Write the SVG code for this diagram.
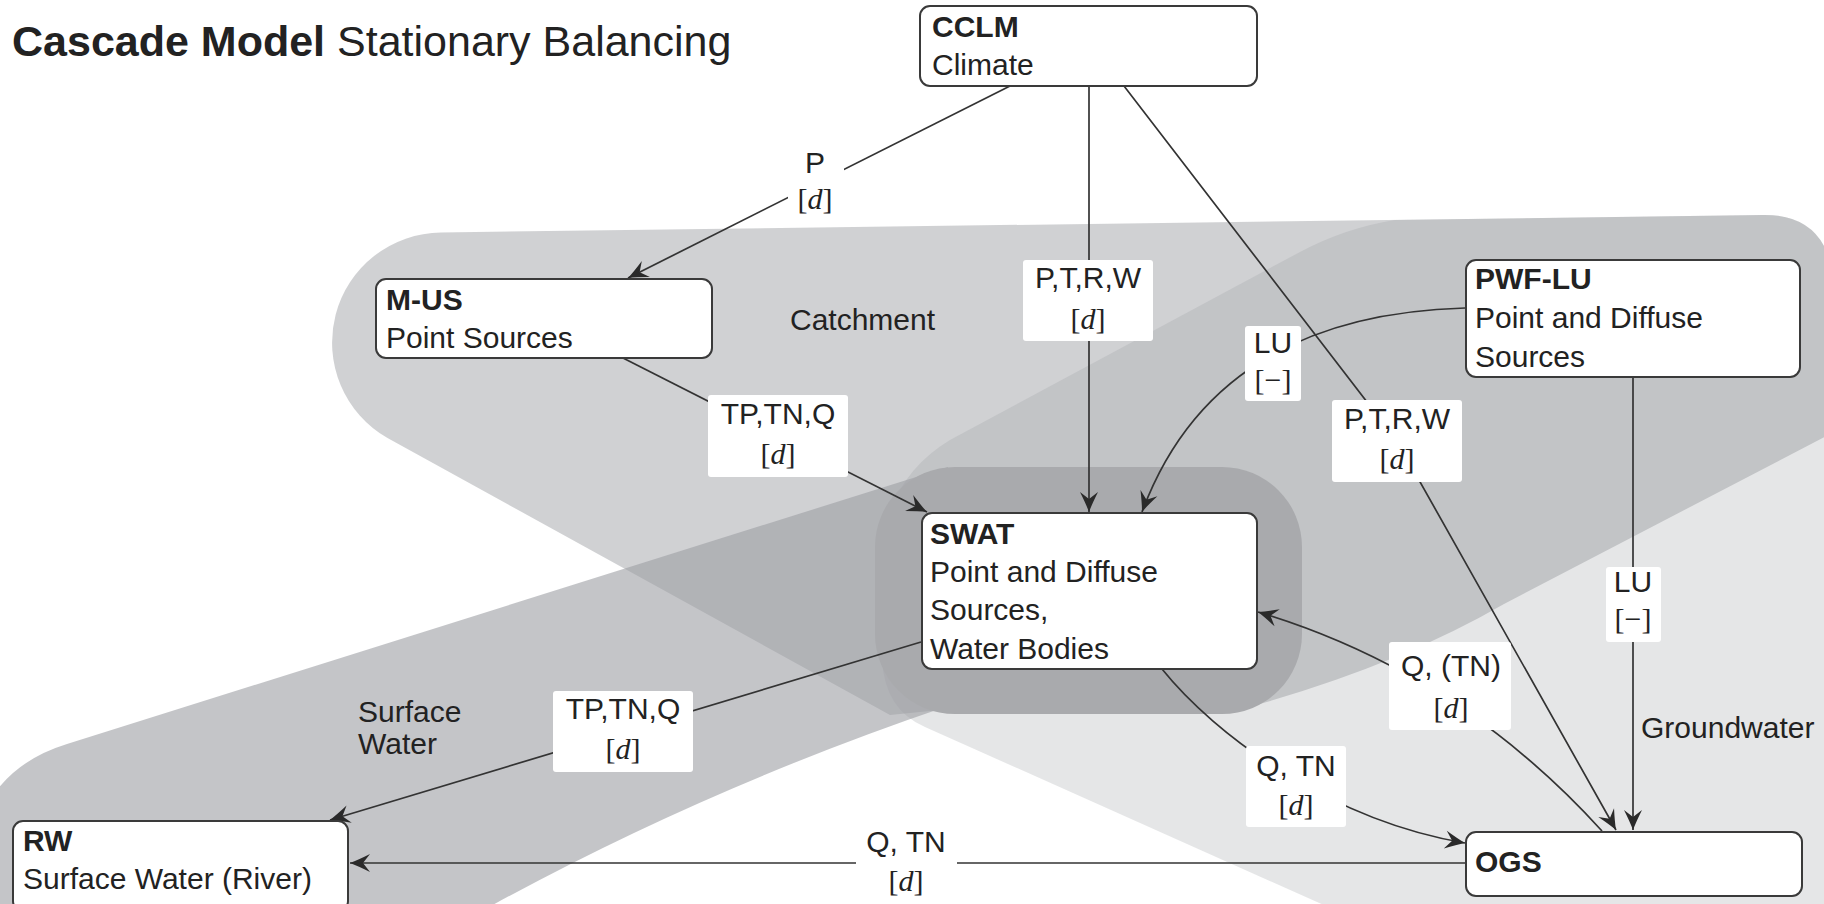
<svg xmlns="http://www.w3.org/2000/svg" width="1824" height="904" viewBox="0 0 1824 904">
<defs>
<style>
.t{font-family:"Liberation Sans",Arial,sans-serif;font-size:30px;fill:#222}
.b{font-weight:bold}
.m{font-family:"Liberation Serif","Times New Roman",serif;font-size:30px;fill:#222}
.mid{text-anchor:middle}
.node{fill:#fff;stroke:#3a3a3a;stroke-width:2}
.lbl{fill:#fff}
.c{fill:none;stroke:#333;stroke-width:1.7}
.a{marker-end:url(#ah)}
.reg{fill:#9c9ea3}
</style>
<marker id="ah" viewBox="-22 -11 24 22" refX="0" refY="0" markerWidth="24" markerHeight="22" markerUnits="userSpaceOnUse" orient="auto">
<path d="M0,0 Q-8,3 -20,9 L-13,0 L-20,-9 Q-8,-3 0,0 Z" fill="#2a2a2a"/>
</marker>
</defs>
<rect width="1824" height="904" fill="#fff"/>
<g id="regions">
<path id="catchment" class="reg" fill-opacity="0.48" d="M441,232.5 L1763,215 Q1826,214 1834,280 L1834,432 L1504,604 Q1390,670 1227,713 L1150,708 L960,708 L890,715 L387.5,438 A110,110 0 0 1 441,232.5 Z"/>
<path id="groundwater" class="reg" fill-opacity="0.26" d="M1395,220 L1763,215 Q1826,214 1834,280 L1834,910 L1335,910 L925,727 Q885,710 882,660 L882,560 Q884,480 950,440 L1300,252 Q1345,228 1395,220 Z"/>
<path id="surface-water" class="reg" fill-opacity="0.6" d="M948,467 L67,744 Q15,760 -10,800 L-10,920 L480,912 Q700,790 948,706 Z"/>
<rect id="swat-region" x="875" y="467" width="427" height="247" rx="80" fill="#a9aaad"/>
</g>
<text class="t" x="12" y="56" style="font-size:43px"><tspan class="b">Cascade Model</tspan> Stationary Balancing</text>
<text class="t" x="790" y="330">Catchment</text>
<text class="t" x="358" y="722">Surface</text>
<text class="t" x="358" y="754">Water</text>
<text class="t" x="1641" y="738">Groundwater</text>
<g id="connectors">
<path class="c a" d="M1010,86 L628,278"/>
<path class="c a" d="M1089,86 L1089,512"/>
<path class="c a" d="M1124,86 L1397,441 L1616,830"/>
<path class="c a" d="M623,358 L927,512"/>
<path class="c a" d="M1465,308 Q1215,315 1142,512"/>
<path class="c a" d="M1633,377 L1633,830"/>
<path class="c a" d="M1162,669 C1215,735 1330,820 1465,843"/>
<path class="c a" d="M1602,831 Q1458,672 1258,612"/>
<path class="c a" d="M921,642 L330,820"/>
<path class="c a" d="M1466,863 L350,863"/>
<g id="lbl-p">
<rect class="lbl" x="788" y="148" width="56" height="68" rx="3"/>
<text class="t mid" x="815" y="173">P</text>
<text class="m mid" x="815" y="209">[<tspan font-style="italic">d</tspan>]</text>
</g>
<g id="lbl-ptrw1">
<rect class="lbl" x="1023" y="260" width="130" height="81" rx="3"/>
<text class="t mid" x="1088" y="288">P,T,R,W</text>
<text class="m mid" x="1088" y="329">[<tspan font-style="italic">d</tspan>]</text>
</g>
<g id="lbl-tptnq1">
<rect class="lbl" x="708" y="395" width="140" height="82" rx="3"/>
<text class="t mid" x="778" y="424">TP,TN,Q</text>
<text class="m mid" x="778" y="464">[<tspan font-style="italic">d</tspan>]</text>
</g>
<g id="lbl-lu1">
<rect class="lbl" x="1245" y="326" width="56" height="75" rx="3"/>
<text class="t mid" x="1273" y="353">LU</text>
<text class="m mid" x="1273" y="390">[−]</text>
</g>
<g id="lbl-ptrw2">
<rect class="lbl" x="1332" y="400" width="130" height="82" rx="3"/>
<text class="t mid" x="1397" y="429">P,T,R,W</text>
<text class="m mid" x="1397" y="469">[<tspan font-style="italic">d</tspan>]</text>
</g>
<g id="lbl-lu2">
<rect class="lbl" x="1606" y="567" width="55" height="75" rx="3"/>
<text class="t mid" x="1633" y="592">LU</text>
<text class="m mid" x="1633" y="629">[−]</text>
</g>
<g id="lbl-qtn-paren">
<rect class="lbl" x="1389" y="642" width="122" height="88" rx="3"/>
<text class="t mid" x="1451" y="676">Q, (TN)</text>
<text class="m mid" x="1451" y="718">[<tspan font-style="italic">d</tspan>]</text>
</g>
<g id="lbl-qtn1">
<rect class="lbl" x="1246" y="746" width="100" height="81" rx="3"/>
<text class="t mid" x="1296" y="776">Q, TN</text>
<text class="m mid" x="1296" y="815">[<tspan font-style="italic">d</tspan>]</text>
</g>
<g id="lbl-tptnq2">
<rect class="lbl" x="553" y="691" width="140" height="81" rx="3"/>
<text class="t mid" x="623" y="719">TP,TN,Q</text>
<text class="m mid" x="623" y="759">[<tspan font-style="italic">d</tspan>]</text>
</g>
<g id="lbl-qtn2">
<rect class="lbl" x="856" y="822" width="101" height="80" rx="3"/>
<text class="t mid" x="906" y="852">Q, TN</text>
<text class="m mid" x="906" y="891">[<tspan font-style="italic">d</tspan>]</text>
</g>
</g>
<g id="node-cclm">
<rect class="node" x="920" y="6" width="337" height="80" rx="10"/>
<text class="t b" x="932" y="37">CCLM</text>
<text class="t" x="932" y="75">Climate</text>
</g>
<g id="node-mus">
<rect class="node" x="376" y="279" width="336" height="79" rx="10"/>
<text class="t b" x="386" y="310">M-US</text>
<text class="t" x="386" y="348">Point Sources</text>
</g>
<g id="node-pwflu">
<rect class="node" x="1466" y="260" width="334" height="117" rx="10"/>
<text class="t b" x="1475" y="289">PWF-LU</text>
<text class="t" x="1475" y="328">Point and Diffuse</text>
<text class="t" x="1475" y="367">Sources</text>
</g>
<g id="node-swat">
<rect class="node" x="922" y="513" width="335" height="156" rx="10"/>
<text class="t b" x="930" y="544">SWAT</text>
<text class="t" x="930" y="582">Point and Diffuse</text>
<text class="t" x="930" y="620">Sources,</text>
<text class="t" x="930" y="659">Water Bodies</text>
</g>
<g id="node-ogs">
<rect class="node" x="1466" y="832" width="336" height="64" rx="10"/>
<text class="t b" x="1475" y="872">OGS</text>
</g>
<g id="node-rw">
<rect class="node" x="13" y="821" width="335" height="90" rx="10"/>
<text class="t b" x="23" y="851">RW</text>
<text class="t" x="23" y="889">Surface Water (River)</text>
</g>
</svg>
